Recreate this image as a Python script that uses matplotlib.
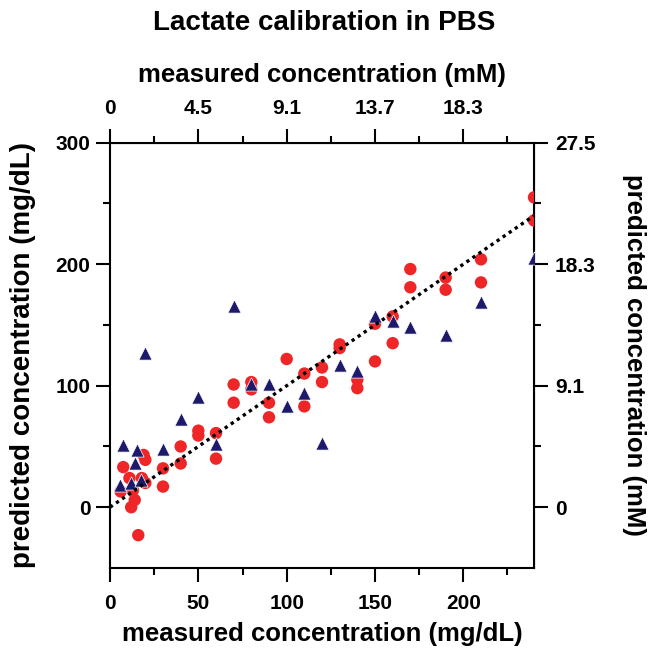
import numpy as np
import matplotlib
matplotlib.use("Agg")
import matplotlib.pyplot as plt

plt.rcParams["font.family"] = ["Liberation Sans", "DejaVu Sans"]
plt.rcParams["font.weight"] = "bold"

# Círculos rojos (mg/dL medido, mg/dL predicho)
x_rojo = [240, 240, 210, 210, 170, 170, 190, 190, 160, 160, 150, 150,
          130, 130, 140, 140, 120, 120, 110, 110, 100, 90, 90, 80, 80,
          70, 70, 60, 60, 50, 50, 40, 40, 30, 30,
          7.5, 19, 20, 11, 18, 20, 6, 13, 14, 12, 16]
y_rojo = [255, 236, 204, 185, 196, 181, 189, 179, 157, 135, 151, 120,
          134, 131, 105, 98, 115, 103, 110, 83, 122, 86, 74, 103, 97,
          101, 86, 61, 40, 63, 59, 50, 36, 32, 17,
          33, 43, 39, 24, 24, 20, 13, 14, 6, 0, -23]

# Triángulos azules
x_azul = [240, 210, 190, 170, 160, 150, 140, 130, 120, 110, 100, 90,
          80, 70, 60, 50, 40, 30, 20, 7.5, 15.5, 14, 5.5, 12, 17.5]
y_azul = [205, 169, 142, 148, 153, 157, 112, 117, 53, 94, 83, 101,
          101, 166, 52, 91, 73, 48, 127, 51, 47, 36, 18, 20, 22]

# Línea de referencia y = x
x_linea = [0, 240]
y_linea = [0, 240]

# Etiquetas de los ejes secundarios (mM)
ticks_x = [0, 50, 100, 150, 200]
etiquetas_top = ["0", "4.5", "9.1", "13.7", "18.3"]
ticks_y = [0, 100, 200, 300]
etiquetas_der = ["0", "9.1", "18.3", "27.5"]
minor_x = [25, 75, 125, 175, 225]
minor_y = [50, 150, 250]

rojo = "#ee2628"
azul = "#1d1a6b"


def estilo_ticks(eje):
    eje.tick_params(which="major", direction="out", length=10, width=1.5,
                    labelsize=15, pad=4)
    eje.tick_params(which="minor", direction="out", length=5, width=1.5)


fig = plt.figure(figsize=(6.49, 6.48), dpi=100)
ax = fig.add_axes([0.1695, 0.1235, 0.6533, 0.6563])

ax.scatter(x_rojo, y_rojo, s=80, color=rojo, edgecolors="none", zorder=3)
ax.scatter(x_azul, y_azul, marker="^", s=90, color=azul,
           edgecolors="white", linewidths=0.5, zorder=4)
ax.plot(x_linea, y_linea, color="black", ls=(0, (1, 1.2)), lw=2.4, zorder=5)

ax.set_xlim(0, 240)
ax.set_ylim(-50, 300)

ax.set_xticks(ticks_x)
ax.set_xticks(minor_x, minor=True)
ax.set_yticks(ticks_y)
ax.set_yticks(minor_y, minor=True)

for s in ax.spines.values():
    s.set_linewidth(1.5)

estilo_ticks(ax)
ax.tick_params(axis="x", which="major", pad=9)

# Eje superior
arriba = ax.secondary_xaxis("top")
arriba.set_xticks(ticks_x, labels=etiquetas_top)
arriba.set_xticks(minor_x, minor=True)
estilo_ticks(arriba)
arriba.tick_params(axis="x", which="major", pad=8)
arriba.set_xlabel("measured concentration (mM)", fontsize=18.5,
                  fontweight="bold", labelpad=12)

# Eje derecho
derecha = ax.secondary_yaxis("right")
derecha.set_yticks(ticks_y, labels=etiquetas_der)
derecha.set_yticks(minor_y, minor=True)
estilo_ticks(derecha)
derecha.tick_params(axis="y", which="major", pad=5)
derecha.set_ylabel("predicted concentration (mM)", fontsize=18.5,
                   fontweight="bold", rotation=270, labelpad=36)

ax.set_xlabel("measured concentration (mg/dL)", fontsize=18.5,
              fontweight="bold", labelpad=6)
ax.set_ylabel("predicted concentration (mg/dL)", fontsize=20,
              fontweight="bold", labelpad=14)

fig.text(0.5, 0.964, "Lactate calibration in PBS", ha="center", va="center",
         fontsize=20, fontweight="bold")

fig.savefig("out.png", dpi=100)
